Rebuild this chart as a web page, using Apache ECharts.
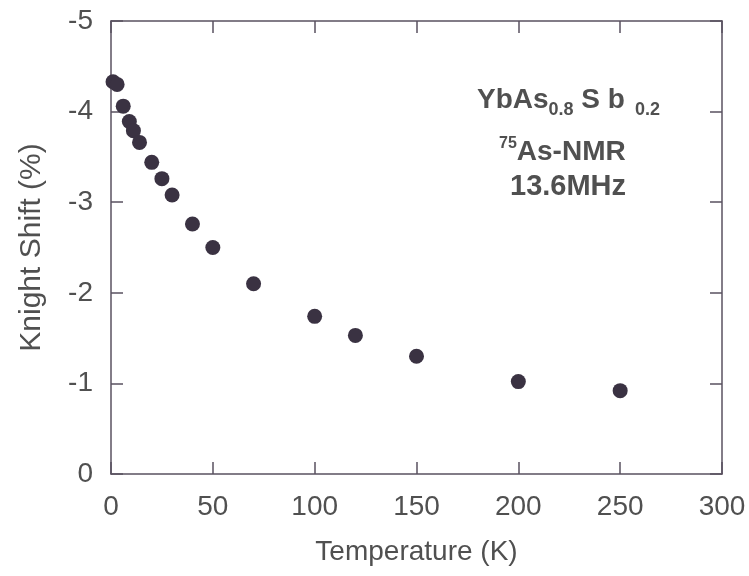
<!DOCTYPE html>
<html><head><meta charset="utf-8">
<script src="https://cdn.jsdelivr.net/npm/echarts@6/dist/echarts.min.js"></script>
<style>html,body{margin:0;padding:0;background:#fff}#c{width:749px;height:576px}</style>
</head><body><div id="c"></div>
<script>
const temperature = [1, 3, 6, 9, 11, 14, 20, 25, 30, 40, 50, 70, 100, 120, 150, 200, 250];
const knightShift = [-4.33, -4.30, -4.06, -3.89, -3.79, -3.66, -3.44, -3.26, -3.08, -2.76, -2.50, -2.10, -1.74, -1.53, -1.30, -1.02, -0.92];
const xTicks = [0, 50, 100, 150, 200, 250, 300];
const yTicks = [-5, -4, -3, -2, -1, 0];

const axisColor = '#5a5260';
const textColor = '#505050';
const font = 'Liberation Sans, Arial, sans-serif';

const chart = echarts.init(document.getElementById('c'));
const baseX = {
  type: 'value', min: xTicks[0], max: xTicks[xTicks.length-1], interval: 50,
  axisLine: {show: true, onZero: false, lineStyle: {color: axisColor, width: 1.5}},
  axisTick: {show: true, inside: true, length: 12, lineStyle: {color: axisColor, width: 1.5}},
  splitLine: {show: false}
};
const baseY = {
  type: 'value', min: yTicks[0], max: yTicks[yTicks.length-1], interval: 1, inverse: true,
  axisLine: {show: true, onZero: false, lineStyle: {color: axisColor, width: 1.5}},
  axisTick: {show: true, inside: true, length: 12, lineStyle: {color: axisColor, width: 1.5}},
  splitLine: {show: false}
};
chart.setOption({
  backgroundColor: '#fff',
  animation: false,
  grid: {left: 111, right: 27, top: 21, bottom: 102, containLabel: false},
  xAxis: [
    Object.assign({}, baseX, {
      position: 'bottom',
      name: 'Temperature (K)', nameLocation: 'middle', nameGap: 64,
      nameTextStyle: {color: textColor, fontSize: 28, fontFamily: font},
      axisLabel: {color: textColor, fontSize: 28, fontFamily: font, margin: 19}
    }),
    Object.assign({}, baseX, {position: 'top', axisLabel: {show: false}})
  ],
  yAxis: [
    Object.assign({}, baseY, {
      position: 'left',
      name: 'Knight Shift (%)', nameLocation: 'middle', nameGap: 64, nameRotate: 90,
      nameTextStyle: {color: textColor, fontSize: 30, fontFamily: font},
      axisLabel: {color: textColor, fontSize: 28, fontFamily: font, margin: 18}
    }),
    Object.assign({}, baseY, {position: 'right', axisLabel: {show: false}})
  ],
  series: [{
    type: 'scatter',
    xAxisIndex: 0, yAxisIndex: 0,
    data: temperature.map((t, i) => [t, knightShift[i]]),
    symbol: 'circle', symbolSize: 15,
    itemStyle: {color: '#3a3242', opacity: 1}
  }],
  graphic: [
    {type: 'text', left: 477, top: 86, style: {
      rich: {
        m: {fontSize: 28, fontWeight: 'bold', fill: textColor, fontFamily: font},
        s: {fontSize: 18, fontWeight: 'bold', fill: textColor, fontFamily: font, padding: [20, 0, 0, 0]}
      },
      text: '{m|YbAs}{s|0.8}{m| S b}{s|  0.2}'
    }},
    {type: 'text', left: 499, top: 136, style: {
      rich: {
        m: {fontSize: 28, fontWeight: 'bold', fill: textColor, fontFamily: font},
        p: {fontSize: 16, fontWeight: 'bold', fill: textColor, fontFamily: font, padding: [0, 0, 16, 0]}
      },
      text: '{p|75}{m|As-NMR}'
    }},
    {type: 'text', left: 510, top: 172, style: {
      text: '13.6MHz', fontSize: 29, fontWeight: 'bold', fill: textColor, fontFamily: font
    }}
  ]
});
</script></body></html>
